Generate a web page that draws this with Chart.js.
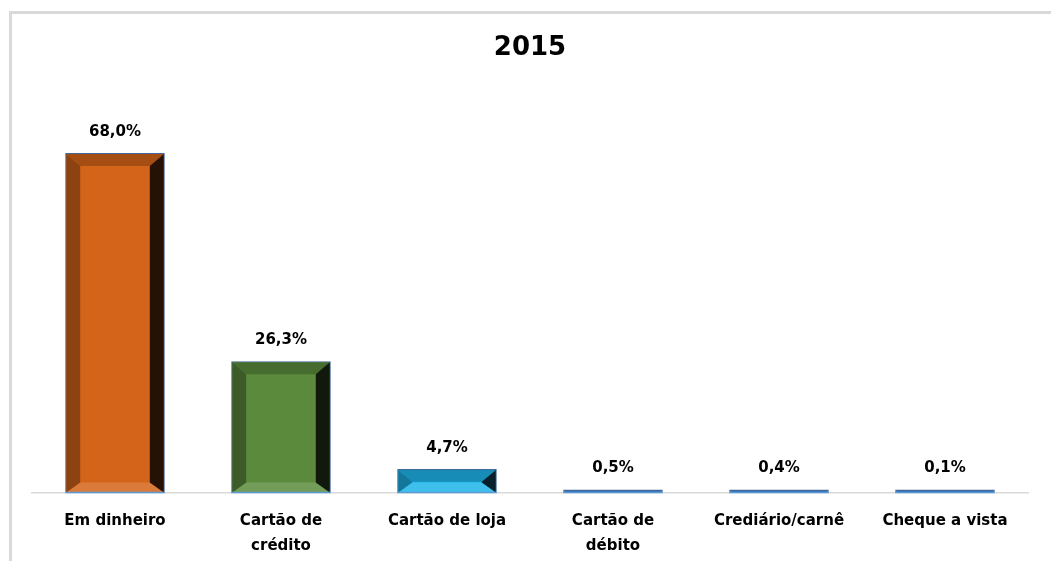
<!DOCTYPE html>
<html>
<head>
<meta charset="utf-8">
<script src="https://cdn.jsdelivr.net/npm/chart.js@4/dist/chart.umd.min.js"></script>
<style>
  html, body { margin: 0; padding: 0; background: #ffffff; overflow: hidden; }
  #frame {
    position: absolute; left: 9px; top: 11px; width: 1042px; height: 550px;
    box-sizing: border-box; border-left: 3px solid #d9d9d9; border-top: 3px solid #d9d9d9;
  }
  #wrap { position: absolute; left: 0; top: 0; width: 1051px; height: 566px; }
</style>
</head>
<body>
<div id="frame"></div>
<div id="wrap"><canvas id="paymentChart"></canvas></div>
<script>
const categories = [
  'Em dinheiro',
  ['Cartão de', 'crédito'],
  'Cartão de loja',
  ['Cartão de', 'débito'],
  'Crediário/carnê',
  'Cheque a vista'
];
const shares = [68.0, 26.3, 4.7, 0.5, 0.4, 0.1];
const chartTitle = '2015';

Chart.defaults.font.family = "'DejaVu Sans', 'Verdana', sans-serif";
Chart.defaults.color = '#000000';

function shade(hex, f) {
  const n = parseInt(hex.slice(1), 16);
  let r = (n >> 16) & 255, g = (n >> 8) & 255, b = n & 255;
  const t = f < 0 ? 0 : 255;
  const p = Math.abs(f);
  r = Math.round((t - r) * p + r);
  g = Math.round((t - g) * p + g);
  b = Math.round((t - b) * p + b);
  return `rgb(${r},${g},${b})`;
}

function poly(ctx, pts, color) {
  ctx.beginPath();
  ctx.moveTo(pts[0][0], pts[0][1]);
  pts.slice(1).forEach(p => ctx.lineTo(p[0], p[1]));
  ctx.closePath();
  ctx.fillStyle = color;
  ctx.fill();
}

// bevelled look of the bars
const bevelPlugin = {
  id: 'bevel',
  afterDatasetsDraw(chart) {
    const ctx = chart.ctx;
    const meta = chart.getDatasetMeta(0);
    const colors = chart.data.datasets[0].backgroundColor;
    meta.data.forEach((bar, i) => {
      const { x, y, base, width } = bar.getProps(['x', 'y', 'base', 'width'], true);
      const h = base - y;
      const L = x - width / 2 + 1, R = x + width / 2 - 1, T = y + 1, B = base;
      if (h > 6) {
        const c = colors[i];
        const bx = 14;
        const bt = Math.min(12, h / 2), bb = Math.min(10, h / 2);
        const iL = L + bx, iR = R - bx, iT = T + bt, iB = Math.max(iT, B - bb);
        ctx.save();
        poly(ctx, [[L, T], [R, T], [iR, iT], [iL, iT]], shade(c, -0.22));
        poly(ctx, [[L, B], [iL, iB], [iR, iB], [R, B]], shade(c, 0.15));
        poly(ctx, [[L, T], [iL, iT], [iL, iB], [L, B]], shade(c, -0.34));
        poly(ctx, [[R, T], [R, B], [iR, iB], [iR, iT]], shade(c, -0.82));
        ctx.restore();
      }
      ctx.save();
      ctx.strokeStyle = '#5b9bd5';
      ctx.lineWidth = 1.5;
      ctx.beginPath();
      ctx.moveTo(x - width / 2, base);
      ctx.lineTo(x + width / 2, base);
      ctx.stroke();
      ctx.restore();
    });
  }
};

// value labels above the bars
const valueLabels = {
  id: 'valueLabels',
  afterDatasetsDraw(chart) {
    const ctx = chart.ctx;
    const meta = chart.getDatasetMeta(0);
    ctx.save();
    ctx.font = "bold 15px 'DejaVu Sans', sans-serif";
    ctx.fillStyle = '#000000';
    ctx.textAlign = 'center';
    ctx.textBaseline = 'middle';
    meta.data.forEach((bar, i) => {
      const txt = shares[i].toFixed(1).replace('.', ',') + '%';
      ctx.fillText(txt, bar.x, bar.y - 21);
    });
    ctx.restore();
  }
};

new Chart(document.getElementById('paymentChart'), {
  type: 'bar',
  data: {
    labels: categories,
    datasets: [{
      data: shares,
      backgroundColor: ['#d4641a', '#5b8a3c', '#1db4e9', '#2e6db4', '#2e6db4', '#2e6db4'],
      borderColor: '#41699a',
      borderWidth: 1.5,
      borderSkipped: 'bottom',
      minBarLength: 3,
      categoryPercentage: 0.6,
      barPercentage: 1.0
    }]
  },
  options: {
    responsive: true,
    maintainAspectRatio: false,
    animation: false,
    layout: { padding: { left: 32, right: 23, bottom: 0, top: 0 } },
    plugins: {
      legend: { display: false },
      tooltip: { enabled: false },
      title: {
        display: true,
        text: chartTitle,
        color: '#000000',
        font: { size: 26, weight: 'bold', lineHeight: 1.2 },
        padding: { top: 33, bottom: 29 }
      }
    },
    scales: {
      x: {
        grid: { display: false },
        border: { display: true, color: '#d9d9d9', width: 1.5 },
        ticks: {
          color: '#000000',
          padding: 8,
          maxRotation: 0,
          autoSkip: false,
          font: { size: 15, weight: 'bold', lineHeight: 1.65 }
        }
      },
      y: {
        display: false,
        min: 0,
        max: 80
      }
    }
  },
  plugins: [bevelPlugin, valueLabels]
});
</script>
</body>
</html>
